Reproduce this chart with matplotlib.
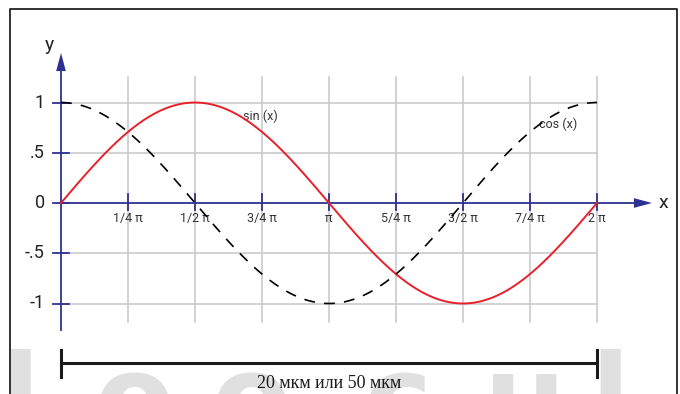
import numpy as np
import matplotlib
matplotlib.use('Agg')
import matplotlib.pyplot as plt
from matplotlib.lines import Line2D

# dados
x_ticks = [np.pi/4*k for k in range(1, 9)]
x_labels = ['1/4 π', '1/2 π', '3/4 π', 'π', '5/4 π', '3/2 π', '7/4 π', '2 π']
y_ticks = [1, 0.5, 0, -0.5, -1]
y_labels = ['1', '.5', '0', '-.5', '-1']
x = np.linspace(0, 2*np.pi, 400)
seno = np.sin(x)
cosseno = np.cos(x)

fonte = ['Roboto', 'DejaVu Sans']
azul = '#2e3192'
cinza = '#c6c6cc'

fig = plt.figure(figsize=(6.8, 3.94), dpi=100)
ax = fig.add_axes([0, 0, 1, 1])
# escala em pixels: 61 px = x 0, 597 px = 2pi ; 203 px = y 0, 100.5 px por unidade
k = 536 / (2*np.pi)
ax.set_xlim(-61/k, (680-61)/k)
ax.set_ylim(-(394-203)/100.5, 203/100.5)
ax.axis('off')
ax.set_zorder(2)

# moldura
fig.add_artist(Line2D([10/680, 10/680, 677/680, 677/680], [0, 1-9/394, 1-9/394, 0],
                      transform=fig.transFigure, color='#222222', lw=1.3))

# marca d'agua
for letra, px in zip(['l', 'o', 'o', 'c', 'u', 'l'], [20, 135, 252, 398, 525, 610]):
    fig.text(px/680, -0.11, letra, fontsize=83, fontweight='bold', color='#e0e0e0',
             ha='center', va='baseline', family='DejaVu Sans', zorder=0)

# grade
for xt in x_ticks:
    ax.plot([xt, xt], [-1.18, 1.25], color=cinza, lw=1.1, zorder=1)
for yt in [1, 0.5, -0.5, -1]:
    ax.plot([0, 2*np.pi], [yt, yt], color=cinza, lw=1.1, zorder=1)

# eixos
ax.plot([0, 0], [-1.26, 1.40], color=azul, lw=1.3, zorder=3)
ax.plot([0, 6.75], [0, 0], color=azul, lw=1.3, zorder=3)
ax.annotate('', xy=(0, 1.52), xytext=(0, 1.30),
            arrowprops=dict(arrowstyle='-|>,head_length=1.3,head_width=0.35', color=azul, lw=0))
ax.annotate('', xy=(6.96, 0), xytext=(6.70, 0),
            arrowprops=dict(arrowstyle='-|>,head_length=1.3,head_width=0.35', color=azul, lw=0))
for yt in y_ticks:
    ax.plot([-0.095, 0.095], [yt, yt], color=azul, lw=1.3, zorder=3)
for xt in x_ticks:
    ax.plot([xt, xt], [-0.07, 0.09], color=azul, lw=1.3, zorder=3)

for yt, lab in zip(y_ticks, y_labels):
    ax.text(-0.19, yt, lab, ha='right', va='center', fontsize=13, family=fonte, color='#222222')
for xt, lab in zip(x_ticks, x_labels):
    ax.text(xt, -0.15, lab, ha='center', va='center', fontsize=9, family=fonte, color='#333333')
ax.text(-0.13, 1.57, 'y', ha='center', va='center', fontsize=14, family=fonte, color='#222222')
ax.text(7.06, 0.0, 'x', ha='center', va='center', fontsize=14, family=fonte, color='#222222')

# curvas
ax.plot(x, seno, color='#e8202a', lw=1.4, zorder=4)
ax.plot(x, cosseno, color='black', lw=1.2, dashes=(6.5, 5.5), zorder=4)
ax.text(2.34, 0.86, 'sin (x)', fontsize=9, family=fonte, color='#333333', ha='center', va='center')
ax.text(5.83, 0.78, 'cos (x)', fontsize=9, family=fonte, color='#333333', ha='center', va='center')

# barra de escala
ax.plot([0, 2*np.pi], [-1.59, -1.59], color='#1a1a1a', lw=2.2)
ax.plot([0, 0], [-1.46, -1.73], color='#1a1a1a', lw=2.2)
ax.plot([2*np.pi, 2*np.pi], [-1.46, -1.73], color='#1a1a1a', lw=2.2)
ax.text(np.pi, -1.80, '20 мкм или 50 мкм', fontsize=13, family=['Liberation Serif', 'DejaVu Serif'],
        ha='center', va='center', color='#1a1a1a')

fig.savefig('out.png', dpi=100)
